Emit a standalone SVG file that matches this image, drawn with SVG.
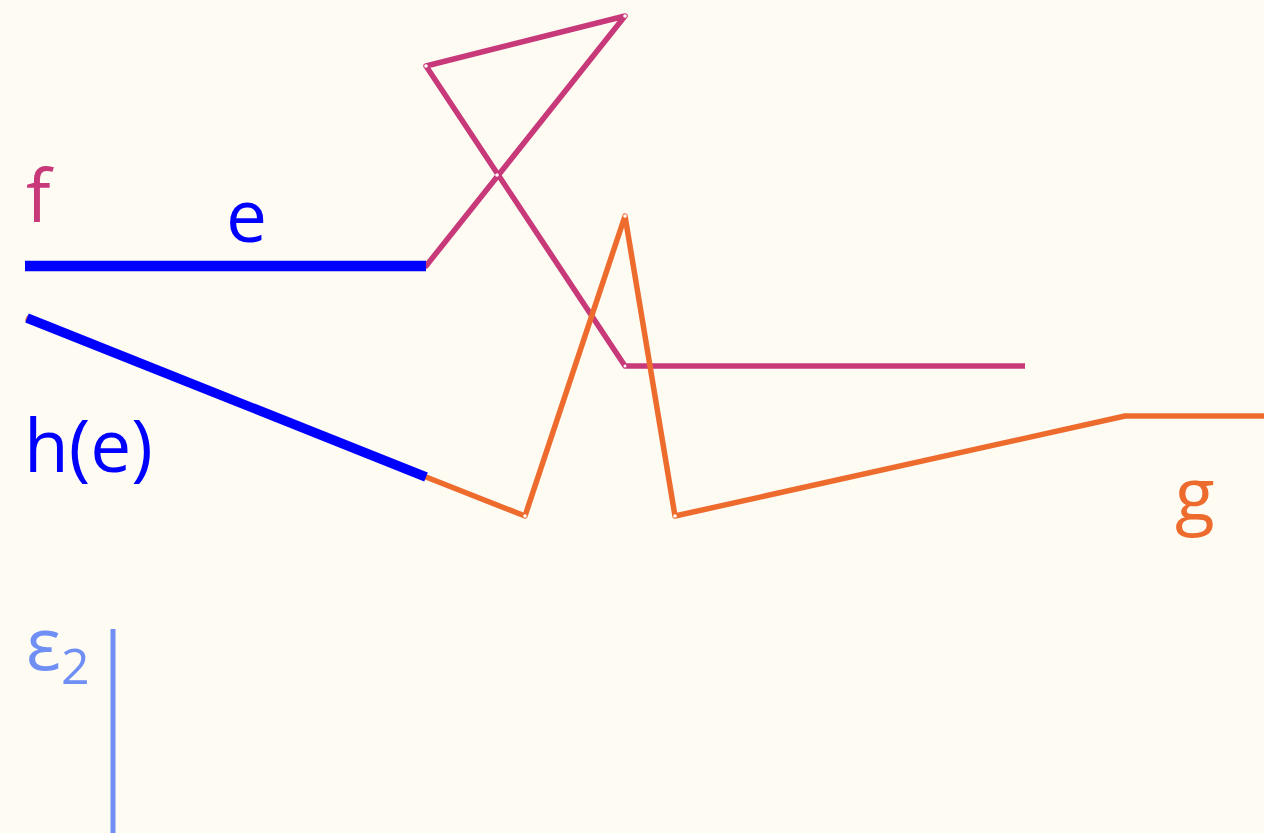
<svg xmlns="http://www.w3.org/2000/svg" width="1264" height="833" viewBox="0 0 1264 833">
<style>
.f{stroke:#c8397a;stroke-width:5.5;fill:none;stroke-linejoin:round}
.g{stroke:#ee6b2e;stroke-width:5.5;fill:none;stroke-linejoin:round}
.b{stroke:#0000ff;fill:none}
.dot{fill:#ffffff}
text{font-family:"Open Sans","Noto Sans",sans-serif;font-size:73px}
</style>
<rect width="1264" height="833" fill="#fefbf3"/>
<g id="connectors">
<polyline id="f-curve" class="f" points="26,266 426,266 625,16 426,66 625,366 1025,366"/>
<polyline id="g-curve" class="g" points="26,318 426,477 525,516 625,216 675,516 1125,416 1264,416"/>
<line id="e-seg" class="b" x1="25" y1="266" x2="426" y2="266" stroke-width="10.5"/>
<line id="he-seg" class="b" x1="27" y1="318" x2="426" y2="477" stroke-width="9.5"/>
<line id="eps2-bar" x1="113" y1="629" x2="113" y2="833" stroke="#6f8ff5" stroke-width="5"/>
<g id="vertex-dots">
<circle class="dot" cx="426" cy="66" r="1.8"/>
<circle class="dot" cx="625" cy="16" r="1.8"/>
<circle class="dot" cx="497" cy="175" r="1.8"/>
<circle class="dot" cx="625" cy="366" r="1.5"/>
<circle class="dot" cx="525" cy="516" r="1.8"/>
<circle class="dot" cx="625" cy="216" r="1.8"/>
<circle class="dot" cx="675" cy="516" r="1.8"/>
</g>
</g>
<g id="label-f"><text x="26" y="222" fill="#c8397a">f</text></g>
<g id="label-e"><text x="226" y="242" fill="#0000ff">e</text></g>
<g id="label-he"><text x="24" y="472" fill="#0000ff">h(e)</text></g>
<g id="label-g"><text x="1175" y="520" fill="#ee6b2e">g</text></g>
<g id="label-eps2"><text x="26" y="670" fill="#6f8ff5" font-size="78">ε<tspan font-size="50" dy="14">2</tspan></text></g>
</svg>
